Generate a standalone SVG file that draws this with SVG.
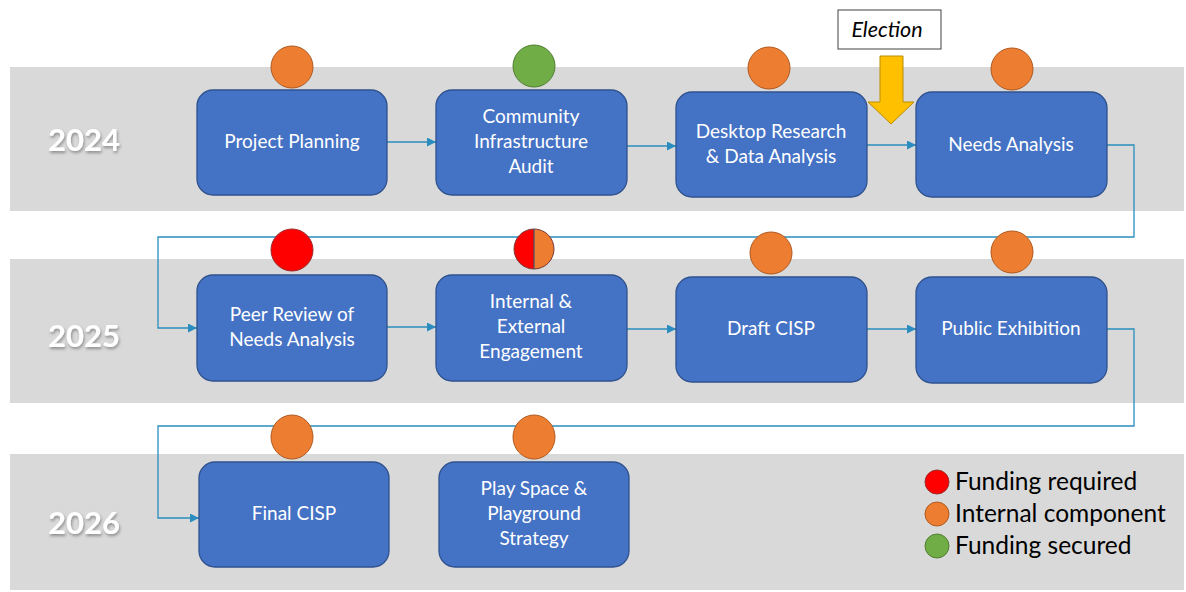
<svg xmlns="http://www.w3.org/2000/svg" width="1186" height="592" viewBox="0 0 1186 592">
<defs>
<style>
.band{fill:#D9D9D9}
.node{fill:#4472C4;stroke:#2F528F;stroke-width:1.3}
.nt{font-family:Lato,"Open Sans","Liberation Sans",sans-serif;font-size:19px;fill:#FFFFFF;text-anchor:middle}
.yr{font-family:Lato,"Open Sans","Liberation Sans",sans-serif;font-size:31px;font-weight:bold;fill:#FFFFFF;text-anchor:middle}
.or{fill:#ED7D31;stroke:#AE5A21;stroke-width:1}
.gr{fill:#70AD47;stroke:#507E32;stroke-width:1}
.rd{fill:#FF0000;stroke:#9C2A2A;stroke-width:1}
.con{fill:none;stroke:#2A8DBE;stroke-width:1.3}
.lt{font-family:Lato,"Open Sans","Liberation Sans",sans-serif;font-size:24.5px;fill:#000000}
</style>
<marker id="ah" viewBox="0 0 10 10" refX="10" refY="5" markerWidth="9" markerHeight="9" markerUnits="userSpaceOnUse" orient="auto">
<path d="M0,0 L10,5 L0,10 z" fill="#2A8DBE"/>
</marker>
<filter id="sh" x="-20%" y="-30%" width="140%" height="160%">
<feDropShadow dx="1" dy="2" stdDeviation="1.5" flood-color="#000000" flood-opacity="0.35"/>
</filter>
</defs>
<g id="bands">
<rect class="band" x="10" y="67" width="1174" height="144"/>
<rect class="band" x="10" y="259" width="1174" height="144"/>
<rect class="band" x="10" y="454" width="1174" height="136"/>
</g>
<g id="years">
<text class="yr" x="84" y="151" filter="url(#sh)">2024</text>
<text class="yr" x="84" y="347" filter="url(#sh)">2025</text>
<text class="yr" x="84" y="534" filter="url(#sh)">2026</text>
</g>
<g id="connectors">
<line class="con" x1="387" y1="142" x2="436" y2="142" marker-end="url(#ah)"/>
<line class="con" x1="627" y1="146" x2="676" y2="146" marker-end="url(#ah)"/>
<line class="con" x1="867" y1="145" x2="916" y2="145" marker-end="url(#ah)"/>
<polyline class="con" points="1107,145 1134,145 1134,237 158,237 158,328 197,328" marker-end="url(#ah)"/>
<line class="con" x1="387" y1="327" x2="436" y2="327" marker-end="url(#ah)"/>
<line class="con" x1="627" y1="329" x2="676" y2="329" marker-end="url(#ah)"/>
<line class="con" x1="867" y1="329" x2="916" y2="329" marker-end="url(#ah)"/>
<polyline class="con" points="1107,329 1134,329 1134,426 158,426 158,518 199,518" marker-end="url(#ah)"/>
</g>
<g id="election">
<rect x="838" y="10" width="103" height="39" fill="#FFFFFF" stroke="#404040" stroke-width="1"/>
<text x="887" y="37" font-family="Lato,'Open Sans','Liberation Sans',sans-serif" font-size="21.5" font-style="italic" fill="#000000" text-anchor="middle">Election</text>
<path d="M880,56 L903,56 L903,102 L914,102 L891,124 L868,102 L880,102 z" fill="#FFC000" stroke="#BC8C00" stroke-width="1"/>
</g>
<g id="n1">
<circle class="or" cx="292" cy="67" r="21"/>
<rect class="node" x="197" y="90" width="190" height="105" rx="16"/>
<text class="nt" x="292" y="148">Project Planning</text>
</g>
<g id="n2">
<circle class="gr" cx="534" cy="66" r="21"/>
<rect class="node" x="436" y="90" width="191" height="105" rx="16"/>
<text class="nt" x="531" y="123">Community</text>
<text class="nt" x="531" y="148">Infrastructure</text>
<text class="nt" x="531" y="173">Audit</text>
</g>
<g id="n3">
<circle class="or" cx="769" cy="68" r="21"/>
<rect class="node" x="676" y="92" width="191" height="105" rx="16"/>
<text class="nt" x="771" y="138">Desktop Research</text>
<text class="nt" x="771" y="163">&amp; Data Analysis</text>
</g>
<g id="n4">
<circle class="or" cx="1012" cy="69" r="21"/>
<rect class="node" x="916" y="92" width="191" height="105" rx="16"/>
<text class="nt" x="1011" y="151">Needs Analysis</text>
</g>
<g id="n5">
<circle class="rd" cx="292" cy="250" r="21"/>
<rect class="node" x="197" y="275" width="190" height="106" rx="16"/>
<text class="nt" x="292" y="321">Peer Review of</text>
<text class="nt" x="292" y="346">Needs Analysis</text>
</g>
<g id="n6">
<path d="M534,229 A20,20 0 0 0 534,269 z" fill="#FF0000"/>
<path d="M534,229 A20,20 0 0 1 534,269 z" fill="#ED7D31"/>
<circle cx="534" cy="249" r="20" fill="none" stroke="#7A3A3A" stroke-width="1"/>
<line x1="534" y1="229" x2="534" y2="269" stroke="#44546A" stroke-width="1.2"/>
<rect class="node" x="436" y="275" width="191" height="106" rx="16"/>
<text class="nt" x="531" y="308">Internal &amp;</text>
<text class="nt" x="531" y="333">External</text>
<text class="nt" x="531" y="358">Engagement</text>
</g>
<g id="n7">
<circle class="or" cx="771" cy="253" r="21"/>
<rect class="node" x="676" y="277" width="191" height="105" rx="16"/>
<text class="nt" x="771" y="335">Draft CISP</text>
</g>
<g id="n8">
<circle class="or" cx="1012" cy="252" r="21"/>
<rect class="node" x="916" y="277" width="191" height="106" rx="16"/>
<text class="nt" x="1011" y="335">Public Exhibition</text>
</g>
<g id="n9">
<ellipse class="or" cx="292" cy="437" rx="21" ry="22"/>
<rect class="node" x="199" y="462" width="190" height="105" rx="16"/>
<text class="nt" x="294" y="520">Final CISP</text>
</g>
<g id="n10">
<ellipse class="or" cx="534" cy="437" rx="21" ry="22"/>
<rect class="node" x="439" y="462" width="190" height="105" rx="16"/>
<text class="nt" x="534" y="495">Play Space &amp;</text>
<text class="nt" x="534" y="520">Playground</text>
<text class="nt" x="534" y="545">Strategy</text>
</g>
<g id="legend">
<circle class="rd" cx="937" cy="482" r="12"/>
<text class="lt" x="955" y="490">Funding required</text>
<circle class="or" cx="937" cy="514" r="12"/>
<text class="lt" x="955" y="522">Internal component</text>
<circle class="gr" cx="937" cy="546" r="12"/>
<text class="lt" x="955" y="554">Funding secured</text>
</g>
</svg>
